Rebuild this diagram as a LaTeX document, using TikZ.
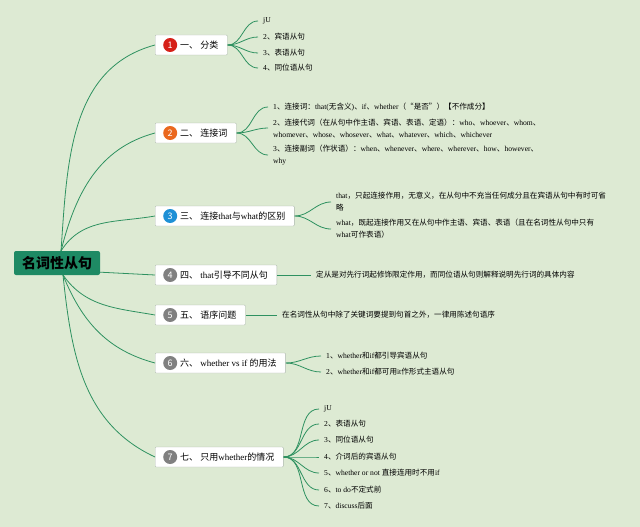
\documentclass[tikz,border=0pt]{standalone}
\usepackage{fontspec}
\usetikzlibrary{positioning}
\setmainfont{Liberation Serif}
\newfontfamily\cjk{Noto Sans CJK SC}
% ---- switch to the CJK font for Chinese characters ----
\chardef\cjkclass=10
\newcount\cjkc
\def\cjkrange#1#2{\cjkc=#1
  \loop\XeTeXcharclass\cjkc=\cjkclass
  \advance\cjkc by 1 \ifnum\cjkc<#2 \repeat}
\cjkrange{"4E00}{"A000}
\cjkrange{"3000}{"3040}
\cjkrange{"FF00}{"FFF0}
\cjkrange{"201C}{"201E}
\XeTeXinterchartoks 0 \cjkclass={\cjk}
\XeTeXinterchartoks \cjkclass 0={\rmfamily}
\XeTeXinterchartoks 1 \cjkclass={\cjk}
\XeTeXinterchartoks \cjkclass 1={\rmfamily}
\XeTeXinterchartoks 2 \cjkclass={\cjk}
\XeTeXinterchartoks \cjkclass 2={\rmfamily}
\XeTeXinterchartoks 3 \cjkclass={\cjk}
\XeTeXinterchartoks \cjkclass 3={\rmfamily}
\XeTeXinterchartoks 4095 \cjkclass={\cjk}
\XeTeXinterchartoks \cjkclass 4095={\rmfamily}
\XeTeXinterchartokenstate=1

\definecolor{bgcol}{RGB}{221,234,211}
\definecolor{rootcol}{RGB}{30,138,100}
\definecolor{linecol}{RGB}{46,145,96}
\definecolor{boxcol}{RGB}{170,182,170}
\definecolor{numred}{RGB}{214,32,24}
\definecolor{numorange}{RGB}{234,104,30}
\definecolor{numblue}{RGB}{30,144,214}
\definecolor{numgray}{RGB}{128,128,128}

\begin{document}
\begin{tikzpicture}[x=1pt,y=-1pt,
  root/.style={fill=rootcol, rounded corners=2, minimum width=86, minimum height=24,
    inner sep=0, font=\fontsize{14}{14}\selectfont\bfseries},
  branch/.style={draw=boxcol, fill=white, rounded corners=1, anchor=west,
    minimum height=20, inner xsep=9, inner ysep=0, font=\fontsize{9}{9}\selectfont,
    execute at begin node=\hspace*{16pt}},
  num/.style={circle, fill=#1, text=white, minimum size=14, inner sep=0,
    font=\fontsize{9}{9}\selectfont\cjk},
  leaf/.style={anchor=west, inner xsep=5, inner ysep=1, align=left,
    font=\fontsize{7.6}{12}\selectfont},
  link/.style={draw=linecol, line width=0.8}]
\fill[bgcol] (0,0) rectangle (640,527);
\useasboundingbox (0,0) rectangle (640,527);
% ---- root and main branches ----
\node[root] (root) at (57,263) {名词性从句};
\coordinate (rt) at (61,251);
\coordinate (rb) at (63,275);
\node[branch] (b1) at (155,45) {一、 分类};
\node[branch] (b2) at (155,133) {二、 连接词};
\node[branch] (b3) at (155,216) {三、 连接that与what的区别};
\node[branch] (b4) at (155,275) {四、 that引导不同从句};
\node[branch] (b5) at (155,315) {五、 语序问题};
\node[branch] (b6) at (155,363) {六、 whether vs if 的用法};
\node[branch] (b7) at (155,457) {七、 只用whether的情况};
\foreach \i/\c in {1/numred,2/numorange,3/numblue,4/numgray,5/numgray,6/numgray,7/numgray}
  \node[num=\c, right=8pt of b\i.west] (n\i) {\i};
\draw[link] (rt) to[out=86,in=195] (b1.west);
\draw[link] (rt) to[out=76,in=195] (b2.west);
\draw[link] (rt) to[out=58,in=190] (b3.west);
\draw[link] (root.-12) -- (b4.west);
\draw[link] (rb) to[out=-55,in=170] (b5.west);
\draw[link] (rb) to[out=-68,in=165] (b6.west);
\draw[link] (rb) to[out=-84,in=155] (b7.west);
% ---- leaves ----
\foreach \y/\t [count=\n] in {21/jU,37/2、宾语从句,53/3、表语从句,68/4、同位语从句} {
  \node[leaf] (l1\n) at (258,\y) {\t};
  \draw[link] (b1.east) to[out=0,in=180] (l1\n.west);
}
\node[leaf] (l21) at (268,107) {1、连接词：that(无含义)、if、whether（“是否”）【不作成分】};
\node[leaf] (l22) at (268,128) {2、连接代词（在从句中作主语、宾语、表语、定语）：who、whoever、whom、\\whomever、whose、whosever、what、whatever、which、whichever};
\node[leaf] (l23) at (268,155) {3、连接副词（作状语）：when、whenever、where、wherever、how、however、\\why};
\foreach \n in {1,2,3} \draw[link] (b2.east) to[out=0,in=180] (l2\n.west);
\node[leaf] (l31) at (331,202) {that，只起连接作用，无意义，在从句中不充当任何成分且在宾语从句中有时可省\\略};
\node[leaf] (l32) at (331,229) {what，既起连接作用又在从句中作主语、宾语、表语（且在名词性从句中只有\\what可作表语）};
\foreach \n in {1,2} \draw[link] (b3.east) to[out=0,in=180] (l3\n.west);
\node[leaf] (l41) at (311,275) {定从是对先行词起修饰限定作用，而同位语从句则解释说明先行词的具体内容};
\draw[link] (b4.east) -- (l41.west);
\node[leaf] (l51) at (277,315) {在名词性从句中除了关键词要提到句首之外，一律用陈述句语序};
\draw[link] (b5.east) -- (l51.west);
\foreach \y/\t [count=\n] in {356/1、whether和if都引导宾语从句,372/2、whether和if都可用it作形式主语从句} {
  \node[leaf] (l6\n) at (321,\y) {\t};
  \draw[link] (b6.east) to[out=0,in=180] (l6\n.west);
}
\foreach \y/\t [count=\n] in {409/jU,424/2、表语从句,440/3、同位语从句,457/4、介词后的宾语从句,
    473/5、whether or not 直接连用时不用if,490/6、to do不定式前,506/7、discuss后面} {
  \node[leaf] (l7\n) at (319,\y) {\t};
  \draw[link] (b7.east) to[out=0,in=180] (l7\n.west);
}
\end{tikzpicture}
\end{document}
